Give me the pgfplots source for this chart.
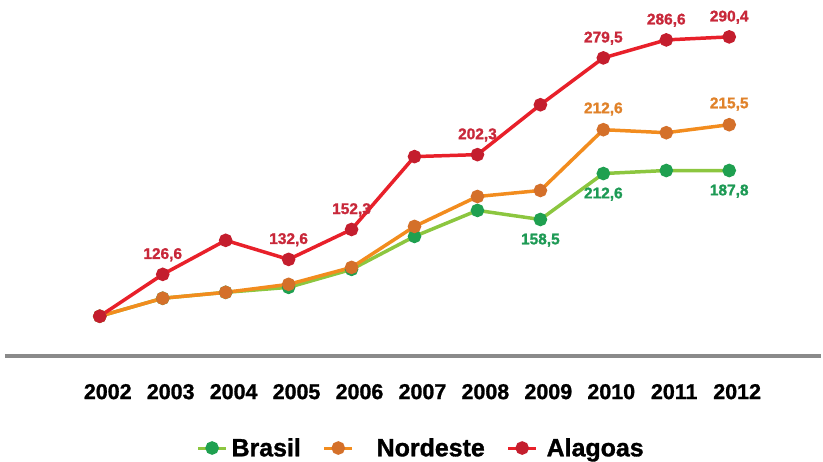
\documentclass[border=0pt]{standalone}
\usepackage{fontspec}
\setmainfont{Liberation Sans}[BoldFeatures={FakeBold=1.2}]
\usepackage{pgfplots}
\usepackage{pgfplotstable}
\pgfplotsset{compat=1.18}
\definecolor{brline}{HTML}{8CC63F}
\definecolor{brmark}{HTML}{1FA050}
\definecolor{brtext}{HTML}{1E9A55}
\definecolor{neline}{HTML}{F28C1E}
\definecolor{nemark}{HTML}{D4702A}
\definecolor{netext}{HTML}{E0822A}
\definecolor{alline}{HTML}{E8202A}
\definecolor{almark}{HTML}{C41E2E}
\definecolor{altext}{HTML}{C8283A}
\definecolor{axgray}{HTML}{8A8A8A}

\pgfplotstableread{
x y lab
2002 100.0 {}
2003 111.9 {}
2004 115.8 {}
2005 119.1 {}
2006 131.0 {}
2007 152.8 {}
2008 170.0 {}
2009 164.0 158,5
2010 194.4 212,6
2011 196.4 {}
2012 196.4 187,8
}\brasil

\pgfplotstableread{
x y lab
2002 100.0 {}
2003 111.9 {}
2004 115.8 {}
2005 121.1 {}
2006 132.3 {}
2007 159.4 {}
2008 179.2 {}
2009 183.2 {}
2010 223.4 212,6
2011 221.4 {}
2012 226.7 215,5
}\nordeste

\pgfplotstableread{
x y lab
2002 100.0 {}
2003 127.7 126,6
2004 150.2 {}
2005 137.6 132,6
2006 157.4 152,3
2007 205.6 {}
2008 206.9 202,3
2009 239.9 {}
2010 270.9 279,5
2011 282.8 286,6
2012 284.8 290,4
}\alagoas

\begin{document}
\begin{tikzpicture}[x=1pt,y=1pt]
\begin{axis}[
  scale only axis,
  width=818pt, height=357pt,
  xmin=2000.494, xmax=2013.458,
  ymin=73.6, ymax=309.2,
  axis x line=bottom,
  axis y line=none,
  x axis line style={line width=4pt, draw=axgray, -},
  xtick={2002,...,2012},
  major tick length=0pt,
  ytick=\empty,
  xticklabel style={font=\fontsize{21.5}{24}\selectfont\bfseries, yshift=-24.5pt, xshift=8pt},
  /pgf/number format/assume math mode=true,
  /pgf/number format/1000 sep={},
  xticklabel={\pgfmathprintnumber[1000 sep={},fixed]{\tick}},
  clip=false,
  point meta=explicit symbolic,
  nodes near coords,
  legend columns=3,
  legend style={at={(0.510,-0.258)}, anchor=center, draw=none, fill=none,
    font=\fontsize{25}{28}\selectfont\bfseries,
    /tikz/every odd column/.append style={column sep=2pt},
    /tikz/every even column/.append style={column sep=20pt}},
  legend image code/.code={
    \draw[#1, mark=none, line width=3pt] (0pt,0pt) -- (28pt,0pt);
    \draw[#1, only marks] plot coordinates {(14pt,0pt)};
  },
]
\addplot[line width=3.5pt, color=brline, mark=*, mark size=5pt,
  mark options={fill=brmark, draw=brmark},
  every node near coord/.append style={font=\fontsize{15.5}{18}\selectfont\bfseries, text=brtext, anchor=north, yshift=-9pt}]
  table[x=x, y=y, meta=lab] {\brasil};
\addlegendentry{Brasil}
\addplot[line width=3.5pt, color=neline, mark=*, mark size=5pt,
  mark options={fill=nemark, draw=nemark},
  every node near coord/.append style={font=\fontsize{15.5}{18}\selectfont\bfseries, text=netext, anchor=south, yshift=9pt}]
  table[x=x, y=y, meta=lab] {\nordeste};
\addlegendentry{\hspace{19pt}Nordeste}
\addplot[line width=3.5pt, color=alline, mark=*, mark size=5pt,
  mark options={fill=almark, draw=almark},
  every node near coord/.append style={font=\fontsize{15.5}{18}\selectfont\bfseries, text=altext, anchor=south, yshift=8pt}]
  table[x=x, y=y, meta=lab] {\alagoas};
\addlegendentry{\hspace{5pt}Alagoas}
\end{axis}
\useasboundingbox (current axis.south west) ++(-5pt,-106pt) rectangle ++(823pt,463pt);
\end{tikzpicture}
\end{document}
